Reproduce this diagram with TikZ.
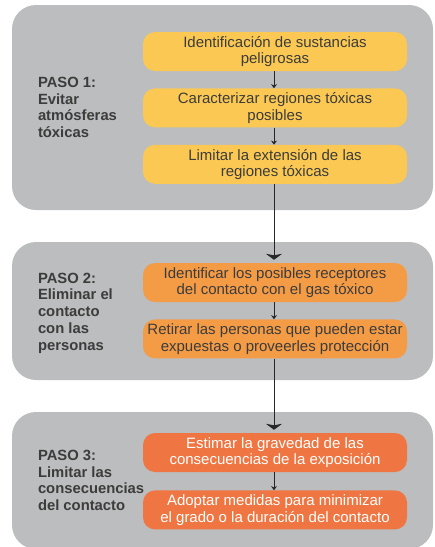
\documentclass[tikz,border=0pt]{standalone}
\usepackage{fontspec}
\setmainfont{Liberation Sans}
\usetikzlibrary{positioning,arrows.meta}
\definecolor{panelgray}{HTML}{BBBDBF}
\definecolor{paso1}{HTML}{FBC953}
\definecolor{paso2}{HTML}{F49B46}
\definecolor{paso3}{HTML}{EF7642}
\definecolor{txtdark}{HTML}{3C3C3C}

\begin{document}
\begin{tikzpicture}[
  panel/.style={fill=panelgray, rounded corners=24pt, minimum width=421pt, inner sep=0pt},
  box/.style={rounded corners=12pt, minimum height=39pt, minimum width=264pt, inner sep=0pt, align=center, text=txtdark, font=\fontsize{15}{16.5}\selectfont},
  steplabel/.style={anchor=west, align=left, text=txtdark, inner sep=0pt, font=\fontsize{14.8}{16.7}\selectfont\bfseries},
  arr/.style={-{Stealth[length=4pt, width=6pt]}, line width=0.9pt, black!85},
  bigarr/.style={-{Stealth[length=6pt, width=16pt, inset=1.5pt]}, line width=0.9pt, black!85}]
\useasboundingbox (0pt,0pt) rectangle (435pt,-547pt);
\node[panel, minimum height=205pt] (pan1) at (222.5pt,-107.5pt) {};
\node[panel, minimum height=138pt] (pan2) at (222.5pt,-311pt) {};
\node[panel, minimum height=137pt] (pan3) at (222.5pt,-480.5pt) {};
\node[steplabel] (lab1) at ([xshift=26pt]pan1.west) {PASO 1:\\Evitar\\atmósferas\\tóxicas};
\node[steplabel] (lab2) at ([xshift=26pt, yshift=-2pt]pan2.west) {PASO 2:\\Eliminar el\\contacto\\con las\\personas};
\node[steplabel] (lab3) at ([xshift=26pt]pan3.west) {PASO 3:\\Limitar las\\consecuencias\\del contacto};
\node[box, fill=paso1] (ident) at (275pt,-51.5pt) {Identificación de sustancias\\peligrosas};
\node[box, fill=paso1, below=17pt of ident] (carac) {Caracterizar regiones tóxicas\\posibles};
\node[box, fill=paso1, below=17pt of carac] (limext) {Limitar la extensión de las\\regiones tóxicas};
\node[box, fill=paso2] (recep) at (275pt,-282.5pt) {Identificar los posibles receptores\\del contacto con el gas tóxico};
\node[box, fill=paso2, below=17pt of recep] (retir) {Retirar las personas que pueden estar\\expuestas o proveerles protección};
\node[box, fill=paso3, text=white] (grav) at (275pt,-452.5pt) {Estimar la gravedad de las\\consecuencias de la exposición};
\node[box, fill=paso3, text=white, below=18pt of grav] (medid) {Adoptar medidas para minimizar\\el grado o la duración del contacto};
\draw[arr] ([xshift=-1pt]ident.south) -- ([xshift=-1pt]carac.north);
\draw[arr] ([xshift=-1pt]carac.south) -- ([xshift=-1pt]limext.north);
\draw[bigarr] ([xshift=-1pt]limext.south) -- ([xshift=-1pt, yshift=3pt]recep.north);
\draw[arr] ([xshift=-1pt]recep.south) -- ([xshift=-1pt]retir.north);
\draw[bigarr] ([xshift=-1pt]retir.south) -- ([xshift=-1pt, yshift=3pt]grav.north);
\draw[arr] ([xshift=-1pt]grav.south) -- ([xshift=-1pt]medid.north);
\end{tikzpicture}
\end{document}
